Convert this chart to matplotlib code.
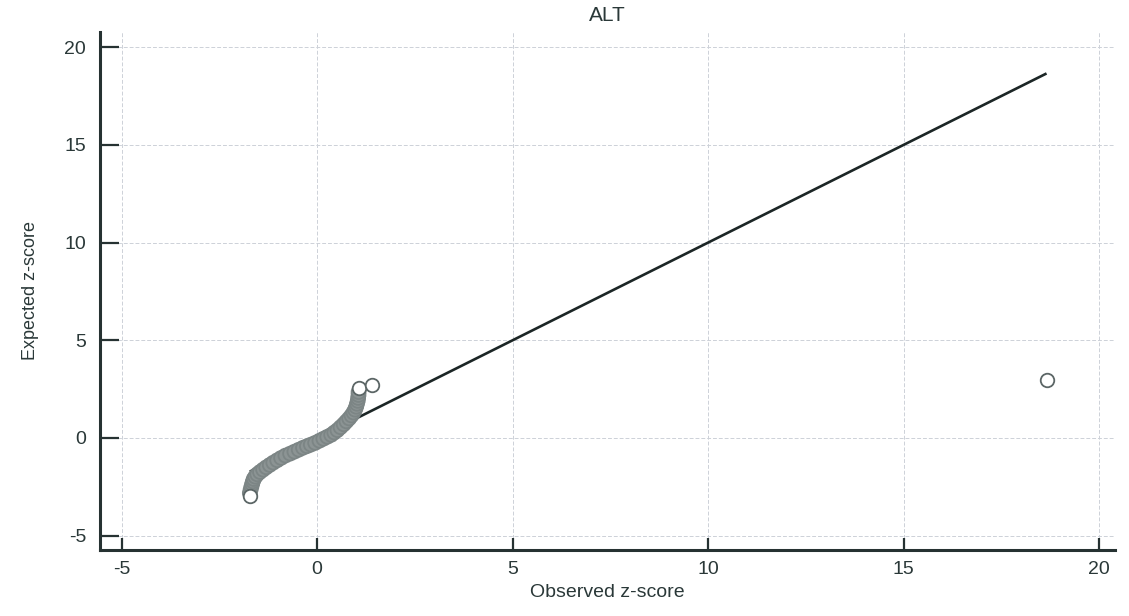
import matplotlib
matplotlib.use("Agg")
import matplotlib.pyplot as plt
import numpy as np

# ── Datos ───────────────────────────────────────────────────────────────────
observed = [
    -1.72, -1.72, -1.70, -1.68, -1.66, -1.64, -1.62, -1.58, -1.53, -1.46,
    -1.38, -1.30, -1.21, -1.12, -1.02, -0.92, -0.81, -0.69, -0.58, -0.47,
    -0.36, -0.26, -0.16, -0.05, 0.06, 0.16, 0.26, 0.36, 0.44, 0.52,
    0.60, 0.68, 0.75, 0.82, 0.88, 0.93, 0.97, 1.00, 1.02, 1.04,
    1.05, 1.06, 1.06, 1.07, 1.40, 18.65,
]
expected = [
    -2.95, -2.82, -2.65, -2.50, -2.35, -2.22, -2.10, -1.98, -1.86, -1.74,
    -1.62, -1.50, -1.38, -1.26, -1.14, -1.02, -0.90, -0.80, -0.70, -0.60,
    -0.50, -0.42, -0.34, -0.25, -0.14, -0.04, 0.06, 0.16, 0.28, 0.40,
    0.55, 0.70, 0.85, 1.00, 1.15, 1.30, 1.45, 1.60, 1.75, 1.90,
    2.05, 2.20, 2.35, 2.55, 2.72, 2.98,
]
x_ticks = [-5, 0, 5, 10, 15, 20]
y_ticks = [-5, 0, 5, 10, 15, 20]
title = "ALT"
x_label = "Observed z-score"
y_label = "Expected z-score"

# ── Estilo ──────────────────────────────────────────────────────────────────
TEXT_COLOR = "#2a3838"
AXIS_COLOR = "#263232"
BAND_COLOR = "#8c9494"
plt.rcParams["font.family"] = ["Liberation Sans", "DejaVu Sans"]
plt.rcParams["axes.unicode_minus"] = False

fig = plt.figure(figsize=(11.29, 6.16), dpi=100, facecolor="white")
ax = fig.add_axes([100 / 1129, 66 / 616, 1015 / 1129, 518 / 616])

ax.set_xlim(-5.55, 20.4)
ax.set_ylim(-5.73, 20.77)
ax.set_xticks(x_ticks)
ax.set_yticks(y_ticks)

ax.grid(True, color="#cdd1d8", linewidth=0.7, linestyle=(0, (4, 2)))
ax.set_axisbelow(True)

for side in ("top", "right"):
    ax.spines[side].set_visible(False)
for side in ("left", "bottom"):
    ax.spines[side].set_color(AXIS_COLOR)
    ax.spines[side].set_linewidth(2.2)

ax.tick_params(axis="y", direction="in", length=14, width=1.6, color=AXIS_COLOR,
               labelsize=14, labelcolor=TEXT_COLOR, pad=10)
ax.tick_params(axis="x", direction="in", length=9, width=1.6, color=AXIS_COLOR,
               labelsize=14, labelcolor=TEXT_COLOR, pad=8)

# línea de referencia y = x
obs = np.array(observed)
ax.plot([obs.min(), obs.max()], [obs.min(), obs.max()],
        color="#1c2626", linewidth=1.9, zorder=2, solid_capstyle="butt")

# la banda densa se ve gris; los extremos quedan con círculo blanco
n = len(observed)
faces = ["white" if i == 0 or i >= n - 3 else BAND_COLOR for i in range(n)]
edges = ["#5c6666" if f == "white" else "#7c8585" for f in faces]
ax.scatter(observed[1:-3], expected[1:-3], s=100, facecolor=faces[1:-3],
           edgecolor=edges[1:-3], linewidth=1.3, zorder=3)
ax.scatter([observed[0]] + observed[-3:], [expected[0]] + expected[-3:], s=95,
           facecolor="white", edgecolor="#5c6666", linewidth=1.3, zorder=4)

ax.set_title(title, fontsize=15, color=TEXT_COLOR, pad=8)
ax.set_xlabel(x_label, fontsize=14, color=TEXT_COLOR, labelpad=4)
ax.set_ylabel(y_label, fontsize=13, color=TEXT_COLOR, labelpad=18)

fig.savefig("out.png", dpi=100, facecolor="white")
plt.close(fig)
